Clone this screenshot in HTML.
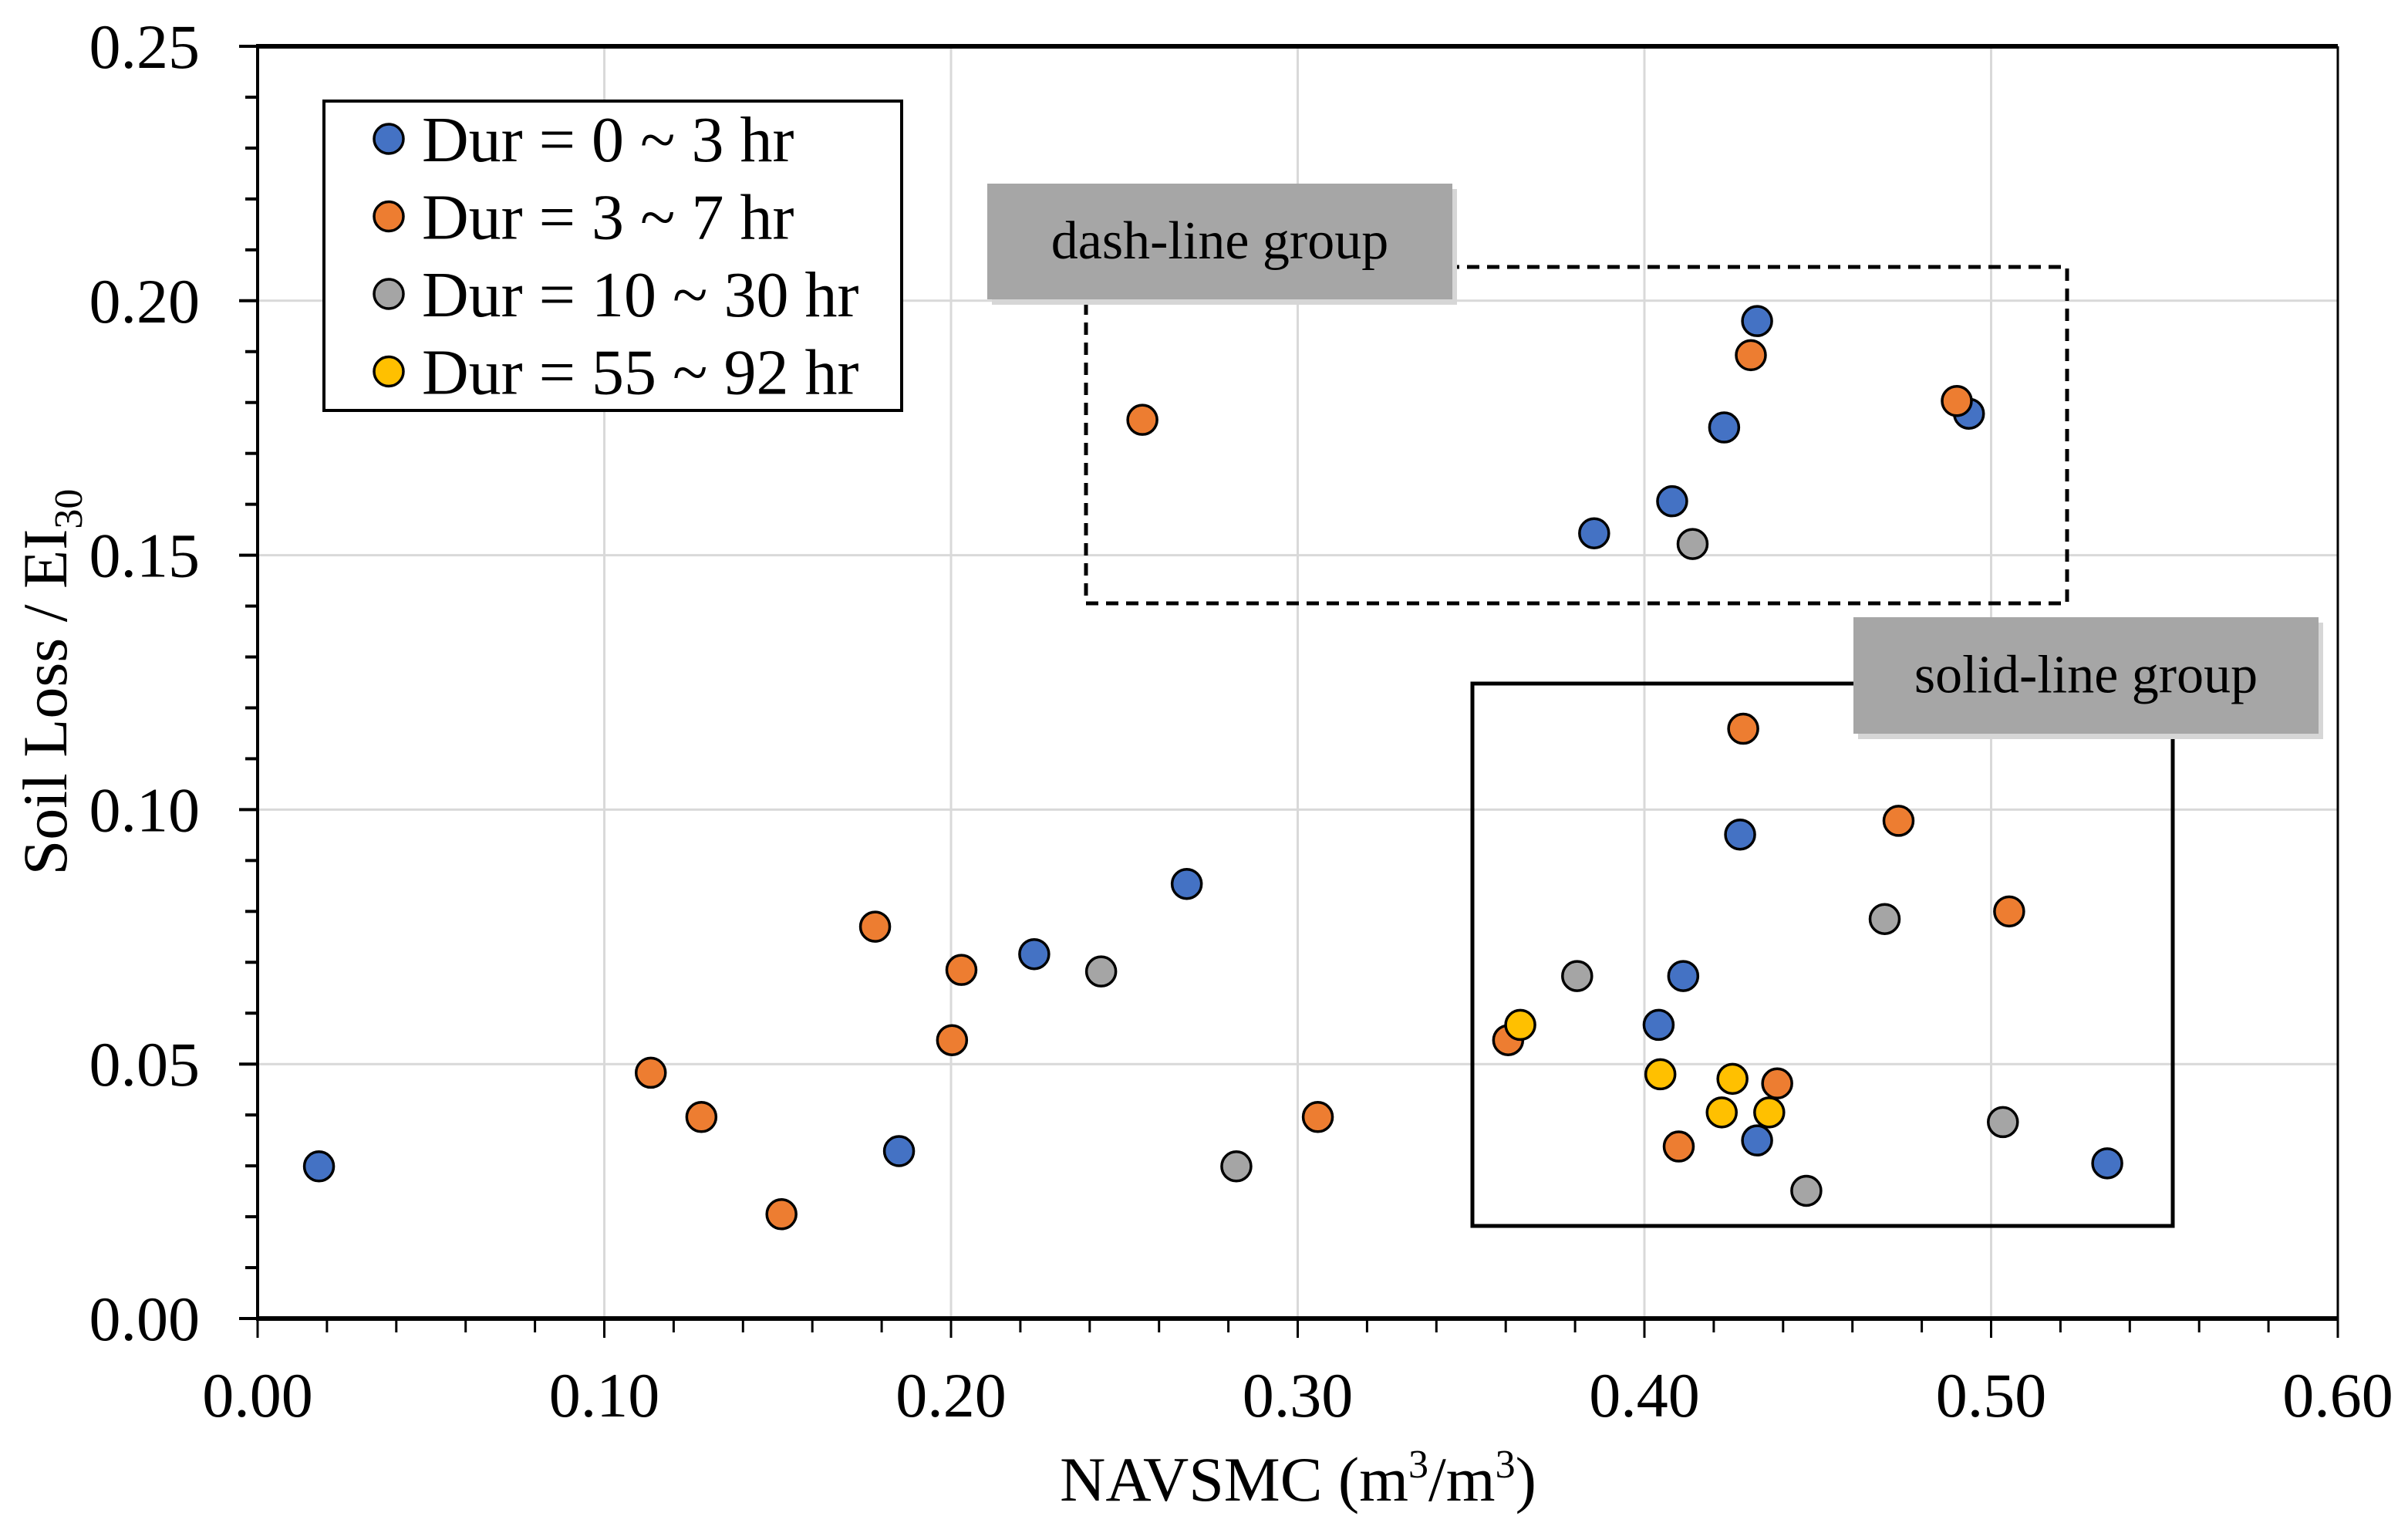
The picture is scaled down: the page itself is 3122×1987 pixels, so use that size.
<!DOCTYPE html>
<html><head><meta charset="utf-8"><style>
html,body{margin:0;padding:0;background:#fff;}
svg{display:block;font-family:"Liberation Serif",serif;}
</style></head><body>
<svg id="chart" width="3122" height="1987" viewBox="0 0 3122 1987" xmlns="http://www.w3.org/2000/svg">
<g id="grid"></g>
<g id="axes"></g>
<g id="groups"></g>
<g id="points"></g>
<g id="legend"></g>
</svg>
<script>
const xTicks = [0, 0.1, 0.2, 0.3, 0.4, 0.5, 0.6];
const xTickLabels = ["0.00","0.10","0.20","0.30","0.40","0.50","0.60"];
const yTicks = [0, 0.05, 0.10, 0.15, 0.20, 0.25];
const yTickLabels = ["0.00","0.05","0.10","0.15","0.20","0.25"];
const seriesNames = ["Dur = 0 ~ 3 hr","Dur = 3 ~ 7 hr","Dur = 10 ~ 30 hr","Dur = 55 ~ 92 hr"];
const seriesColors = ["#4472c4","#ed7d31","#a5a5a5","#ffc000"];
const blueX = [0.0177,0.185,0.224,0.268,0.3855,0.408,0.423,0.4325,0.4936,0.4276,0.4112,0.4041,0.4325,0.5335];
const blueY = [0.0299,0.0329,0.0716,0.0854,0.1543,0.1606,0.1751,0.196,0.1778,0.0951,0.0673,0.0577,0.035,0.0305];
const orangeX = [0.1134,0.128,0.1511,0.1781,0.2003,0.203,0.2552,0.3058,0.4307,0.4901,0.4285,0.4733,0.5052,0.3607,0.4383,0.4099];
const orangeY = [0.0483,0.0396,0.0205,0.077,0.0547,0.0685,0.1766,0.0396,0.1893,0.1803,0.1159,0.0978,0.08,0.0547,0.0462,0.0338];
const grayX = [0.2433,0.2823,0.4139,0.3806,0.4693,0.5034,0.4467];
const grayY = [0.0682,0.0299,0.1522,0.0673,0.0785,0.0386,0.0251];
const yellowX = [0.3642,0.4046,0.4254,0.4223,0.4360];
const yellowY = [0.0577,0.048,0.0471,0.0405,0.0405];

const NS="http://www.w3.org/2000/svg";
const L=334,R=3031,T=60,B=1709;
const xs=v=>L+(v-0)/(0.6)*(R-L);
const ys=v=>B-(v-0)/(0.25)*(B-T);
function mk(tag,attrs,parent){const e=document.createElementNS(NS,tag);for(const k in attrs)e.setAttribute(k,attrs[k]);parent.appendChild(e);return e;}
const grid=document.getElementById('grid'),axes=document.getElementById('axes'),groups=document.getElementById('groups'),pts=document.getElementById('points'),leg=document.getElementById('legend');

xTicks.forEach((t,i)=>{
  if(i>0&&i<xTicks.length-1){const g=mk('line',{x1:xs(t),x2:xs(t),y1:T,y2:B,stroke:'#d9d9d9','stroke-width':3},grid);
  
  }
  const tx=mk('text',{x:xs(t),y:1836,'font-size':82,'text-anchor':'middle'},axes);tx.textContent=xTickLabels[i];
  
  
});
yTicks.forEach((t,i)=>{
  if(i>0&&i<yTicks.length-1){const g=mk('line',{x1:L,x2:R,y1:ys(t),y2:ys(t),stroke:'#d9d9d9','stroke-width':3},grid);
  
  }
  const tx=mk('text',{x:259,y:ys(t)+28,'font-size':82,'text-anchor':'end'},axes);tx.textContent=yTickLabels[i];
  
  
});
for(let k=0;k<=30;k++){const v=k*0.02;const major=k%5===0;
  mk('line',{x1:xs(v),x2:xs(v),y1:B,y2:major?1734:1727,stroke:'#000','stroke-width':3},axes);}
for(let k=0;k<=25;k++){const v=k*0.01;const major=k%5===0;
  mk('line',{x1:L,x2:major?310:318,y1:ys(v),y2:ys(v),stroke:'#000','stroke-width':4},axes);}
mk('line',{x1:L-2,x2:R,y1:T,y2:T,stroke:'#000','stroke-width':6},axes);
mk('line',{x1:L-2,x2:R,y1:B,y2:B,stroke:'#000','stroke-width':6},axes);
mk('line',{x1:L,x2:L,y1:T,y2:B,stroke:'#000','stroke-width':4},axes);
mk('line',{x1:R,x2:R,y1:T,y2:B+25,stroke:'#000','stroke-width':3},axes);
const xt=mk('text',{x:1683,y:1945,'font-size':82,'text-anchor':'middle'},axes);


xt.innerHTML='NAVSMC (m<tspan dy="-30" font-size="52">3</tspan><tspan dy="30">/m</tspan><tspan dy="-30" font-size="52">3</tspan><tspan dy="30">)</tspan>';
const yt=mk('text',{x:0,y:0,'font-size':82,'text-anchor':'middle',transform:'translate(86,884) rotate(-90)'},axes);


yt.innerHTML='Soil Loss / EI<tspan dy="20" font-size="52">30</tspan>';

const dash=mk('rect',{x:1408,y:346,width:1272,height:436,fill:'none',stroke:'#000','stroke-width':5,'stroke-dasharray':'16 10'},groups);


const solid=mk('rect',{x:1909,y:886,width:908,height:703,fill:'none',stroke:'#000','stroke-width':5},groups);


function label(x,y,w,h,txt,name){
  mk('rect',{x:x+6,y:y+7,width:w,height:h,fill:'#d6d6d6'},groups);
  const r=mk('rect',{x:x,y:y,width:w,height:h,fill:'#a6a6a6'},groups);
  
  
  const t=mk('text',{x:x+w/2,y:y+h/2+22,'font-size':70,'text-anchor':'middle'},groups);t.textContent=txt;
  
  
}
label(1280,238,603,150,'dash-line group','dash-line-group-label');
label(2403,800,603,151,'solid-line group','solid-line-group-label');

const allX=[blueX,orangeX,grayX,yellowX],allY=[blueY,orangeY,grayY,yellowY];
allX.forEach((sx,s)=>{sx.forEach((v,i)=>{
  const c=mk('circle',{cx:xs(v),cy:ys(allY[s][i]),r:19,fill:seriesColors[s],stroke:'#000','stroke-width':3.5},pts);
  
  
});});

const lb=mk('rect',{x:420,y:131,width:749,height:401,fill:'#fff',stroke:'#000','stroke-width':4},leg);


seriesNames.forEach((n,i)=>{
  const cy=180+i*100.5;
  mk('circle',{cx:504,cy:cy,r:19,fill:seriesColors[i],stroke:'#000','stroke-width':3.5},leg);
  const t=mk('text',{x:547,y:cy+29,'font-size':84},leg);t.textContent=n;
  
  
});
</script>
</body></html>
